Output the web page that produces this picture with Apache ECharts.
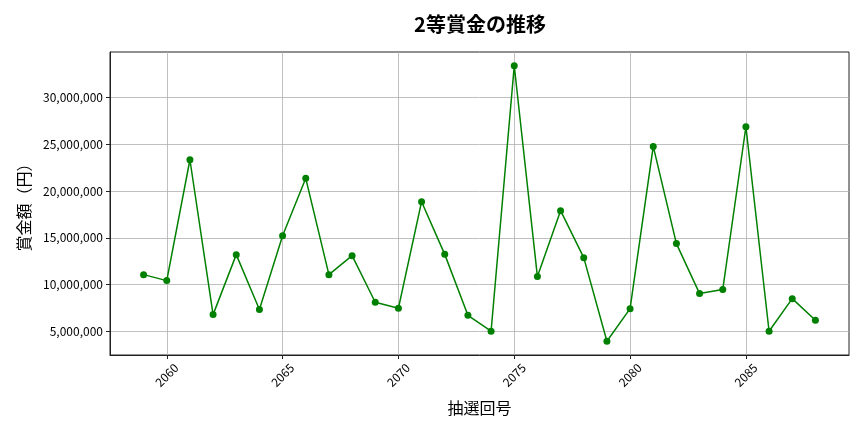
<!DOCTYPE html>
<html><head><meta charset="utf-8">
<script src="https://cdn.jsdelivr.net/npm/echarts@6/dist/echarts.min.js"></script>
<style>html,body{margin:0;padding:0;background:#fff}#c{width:864px;height:432px}</style>
</head><body><div id="c"></div>
<script>
const rounds = [2059,2060,2061,2062,2063,2064,2065,2066,2067,2068,2069,2070,2071,2072,2073,2074,2075,2076,2077,2078,2079,2080,2081,2082,2083,2084,2085,2086,2087,2088];
const prizes = [11060000,10420000,23360000,6780000,13200000,7320000,15230000,21370000,11060000,13090000,8100000,7460000,18870000,13230000,6710000,5000000,33420000,10850000,17910000,12880000,3930000,7420000,24790000,14380000,9030000,9460000,26890000,5000000,8490000,6170000];
const xTicks = [2060,2065,2070,2075,2080,2085];
const yTicks = [5000000,10000000,15000000,20000000,25000000,30000000];

const xmin = Math.min(...rounds), xmax = Math.max(...rounds);
const ymin = Math.min(...prizes), ymax = Math.max(...prizes);
const xpad = (xmax - xmin) * 0.05, ypad = (ymax - ymin) * 0.05;
const font = '"Noto Sans CJK JP", "Noto Sans", sans-serif';

const chart = echarts.init(document.getElementById('c'));
chart.setOption({
  animation: false,
  title: {text: '2等賞金の推移', left: 475, top: 9, textAlign: 'center',
    textStyle: {fontFamily: font, fontSize: 20, fontWeight: 'bold', color: '#000'}},
  grid: {left: 110, right: 15, top: 52, bottom: 77, show: true, borderColor: '#222', borderWidth: 1, backgroundColor: 'transparent'},
  xAxis: {type: 'value', min: xmin - xpad, max: xmax + xpad,
    name: '抽選回号', nameLocation: 'middle', nameGap: 45,
    nameTextStyle: {fontFamily: font, fontSize: 16, color: '#000'},
    axisLine: {show: true, lineStyle: {color: '#222'}},
    axisTick: {show: true, length: 4, lineStyle: {color: '#222'}, customValues: xTicks},
    axisLabel: {customValues: xTicks, rotate: 45, align: 'center', verticalAlign: 'middle',
      fontFamily: font, fontSize: 12, color: '#000', margin: 20,
      formatter: v => String(v)},
    splitLine: {show: true, lineStyle: {color: '#b0b0b0', width: 0.8}}},
  yAxis: {type: 'value', min: ymin - ypad, max: ymax + ypad,
    name: '賞金額（円）', nameLocation: 'middle', nameGap: 78, nameRotate: 90,
    nameTextStyle: {fontFamily: font, fontSize: 16, color: '#000'},
    axisLine: {show: true, lineStyle: {color: '#222'}},
    axisTick: {show: true, length: 4, lineStyle: {color: '#222'}, customValues: yTicks},
    axisLabel: {customValues: yTicks, fontFamily: font, fontSize: 12, color: '#000', margin: 7,
      formatter: v => Math.round(v).toLocaleString('en-US')},
    splitLine: {show: true, lineStyle: {color: '#b0b0b0', width: 0.8}}},
  series: [{type: 'line', data: rounds.map((r, i) => [r, prizes[i]]),
    symbol: 'circle', symbolSize: 7,
    lineStyle: {color: '#008000', width: 1.5},
    itemStyle: {color: '#008000'}}]
});
</script></body></html>
